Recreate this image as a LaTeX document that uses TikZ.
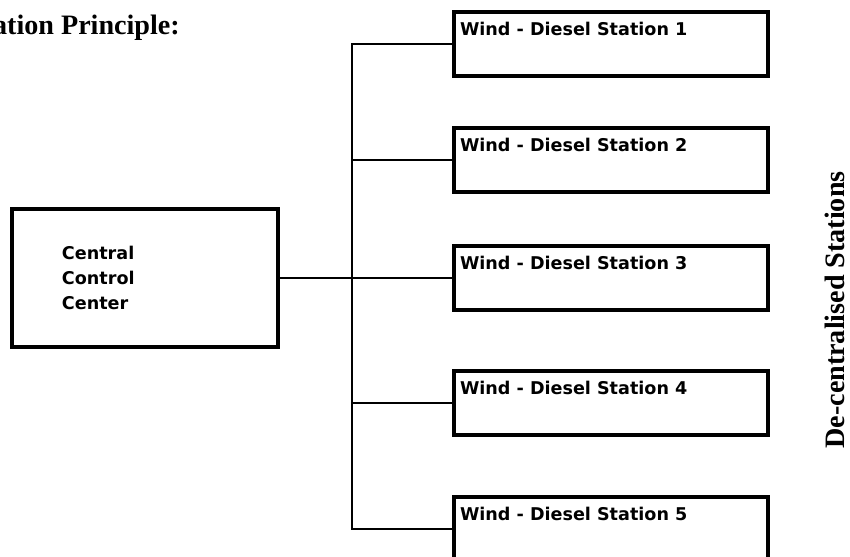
\documentclass[tikz,border=0pt]{standalone}
\usepackage{fontspec}
\setmainfont{Liberation Serif}
\newfontfamily\boxfont{DejaVu Sans}
\usetikzlibrary{positioning}

\tikzset{
  stationbox/.style={draw,line width=3.8pt,minimum width=9.42cm,minimum height=1.92cm,inner sep=0pt},
  stationtext/.style={font=\boxfont\bfseries\fontsize{15}{18}\selectfont,inner sep=0pt,anchor=base west},
  ctrbox/.style={draw,line width=3.8pt,minimum width=7.98cm,minimum height=4.14cm,inner sep=0pt,
    text width=4.98cm,align=left,font=\boxfont\bfseries\fontsize{15}{21.25}\selectfont},
  wire/.style={line width=1.7pt},
  headtext/.style={font=\bfseries\fontsize{24}{28}\selectfont,inner sep=0pt}
}

\begin{document}
\begin{tikzpicture}[x=0.03cm,y=-0.03cm]

    \useasboundingbox[fill=white] (0,0) rectangle (850,556);

    % Title
    \node[headtext,anchor=base east] (title) at (180,34) {ation Principle:};

    % Central control center
    \node[ctrbox] (ccc) at (145,278) {Central\\Control\\Center};

    % Stations
    \node[stationbox] (st1) at (611,44) {};
    \node[stationbox] (st2) at (611,160) {};
    \node[stationbox] (st3) at (611,278) {};
    \node[stationbox] (st4) at (611,403) {};
    \node[stationbox] (st5) at (611,529) {};
    \foreach \i in {1,...,5}
        \node[stationtext] (lab\i) at ([shift={(8,26)}]st\i.north west) {Wind - Diesel Station \i};

    % Bus
    \coordinate (jn) at (352,278);
    \draw[wire] (ccc.east) -- (jn);
    \draw[wire] (st1.west) -| (jn) |- (st5.west);
    \foreach \i in {2,3,4}
        \draw[wire] (st\i.west) -- (st\i.west -| jn);

    % Side label
    \node[headtext,rotate=90] (side) at (835,310) {De-centralised Stations};

\end{tikzpicture}
\end{document}
